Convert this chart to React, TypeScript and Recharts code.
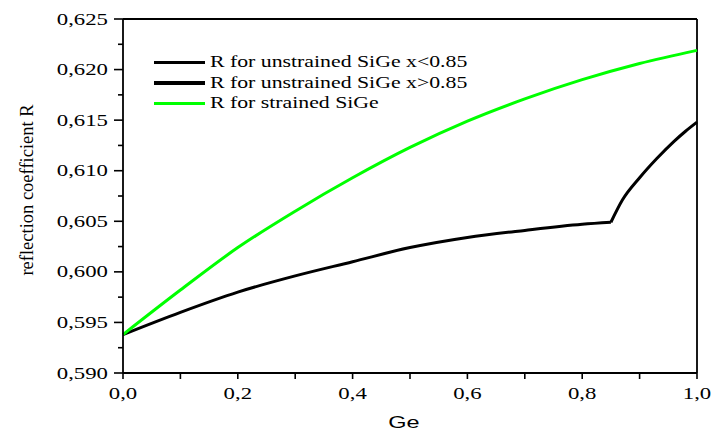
import React from 'react';
import { LineChart, Line, XAxis, YAxis, ReferenceLine, Legend } from 'recharts';

// Ge fraction / reflection coefficient
const geUnstrainedLow = [0, 0.1, 0.2, 0.3, 0.4, 0.5, 0.6, 0.7, 0.8, 0.85];
const rUnstrainedLow = [0.5938, 0.596, 0.598, 0.5996, 0.601, 0.6024, 0.6034, 0.6041, 0.6047, 0.6049];

const geUnstrainedHigh = [0.85, 0.87, 0.9, 0.93, 0.96, 0.98, 1.0];
const rUnstrainedHigh = [0.6049, 0.6071, 0.6093, 0.6112, 0.6129, 0.6139, 0.6148];

const geStrained = [0, 0.1, 0.2, 0.3, 0.4, 0.5, 0.6, 0.7, 0.8, 0.9, 1.0];
const rStrained = [0.5938, 0.5982, 0.6024, 0.606, 0.6093, 0.6123, 0.6149, 0.6171, 0.619, 0.6206, 0.6219];

const xTicks = [0, 0.1, 0.2, 0.3, 0.4, 0.5, 0.6, 0.7, 0.8, 0.9, 1.0];
const yTicks = [
  0.59, 0.5925, 0.595, 0.5975, 0.6, 0.6025, 0.605, 0.6075,
  0.61, 0.6125, 0.615, 0.6175, 0.62, 0.6225, 0.625,
];

const legendItems = [
  { label: 'R for unstrained SiGe x<0.85', color: '#000000' },
  { label: 'R for unstrained SiGe x>0.85', color: '#000000' },
  { label: 'R for strained SiGe', color: '#00ff00' },
];

const toRows = (xs: number[], ys: number[]) => xs.map((ge, i) => ({ ge, r: ys[i] }));

const lowData = toRows(geUnstrainedLow, rUnstrainedLow);
const highData = toRows(geUnstrainedHigh, rUnstrainedHigh);
const strainedData = toRows(geStrained, rStrained);

const SERIF = 'Liberation Serif';
const SANS = 'Liberation Sans';
const STRETCH = 1.38;
const LEGEND_STRETCH = 1.32;

const YTick = (props: any) => {
  const { x, y, payload } = props;
  const v = payload.value as number;
  const major = Math.round(v * 10000) % 50 === 0;
  return (
    <g>
      <line x1={x - (major ? 9 : 5)} x2={x} y1={y} y2={y} stroke="#000" strokeWidth={1.6} />
      {major && (
        <text
          transform={`translate(${x - 15},${y + 5.5}) scale(${STRETCH},1)`}
          textAnchor="end"
          style={{ fontFamily: SERIF, fontSize: 16.5 }}
          fill="#000"
        >
          {v.toFixed(3).replace('.', ',')}
        </text>
      )}
    </g>
  );
};

const XTick = (props: any) => {
  const { x, y, payload } = props;
  const v = payload.value as number;
  const labeled = Math.round(v * 10) % 2 === 0;
  return (
    <g>
      <line x1={x} x2={x} y1={y} y2={y + 6} stroke="#000" strokeWidth={1.6} />
      {labeled && (
        <text
          transform={`translate(${x},${y + 26}) scale(${STRETCH},1)`}
          textAnchor="middle"
          style={{ fontFamily: SERIF, fontSize: 16.5 }}
          fill="#000"
        >
          {v.toFixed(1).replace('.', ',')}
        </text>
      )}
    </g>
  );
};

const renderYLabel = (props: any) => {
  const { viewBox } = props;
  const cy = viewBox.y + viewBox.height / 2 - 6;
  return (
    <text
      transform={`translate(27,${cy}) rotate(-90)`}
      textAnchor="middle"
      dominantBaseline="central"
      style={{ fontFamily: SERIF, fontSize: 18.5 }}
      fill="#000"
    >
      reflection coefficient R
    </text>
  );
};

const renderXLabel = (props: any) => {
  const { viewBox } = props;
  const cx = viewBox.x + viewBox.width / 2 - 6;
  return (
    <text
      transform={`translate(${cx},${viewBox.y + 55}) scale(${STRETCH},1)`}
      textAnchor="middle"
      style={{ fontFamily: SANS, fontSize: 17 }}
      fill="#000"
    >
      Ge
    </text>
  );
};

const renderLegend = () => (
  <div style={{ display: 'flex', flexDirection: 'column' }}>
    {legendItems.map((item) => (
      <div key={item.label} style={{ display: 'flex', alignItems: 'center', height: 20.5 }}>
        <div style={{ width: 51, height: 3.5, background: item.color, marginRight: 5 }} />
        <span
          style={{
            display: 'inline-block',
            transform: `scaleX(${LEGEND_STRETCH})`,
            transformOrigin: 'left center',
            whiteSpace: 'nowrap',
            fontFamily: SERIF,
            fontSize: 16.5,
            color: '#000',
            lineHeight: '20px',
          }}
        >
          {item.label}
        </span>
      </div>
    ))}
  </div>
);

export default function App() {
  return (
    <div style={{ position: 'absolute', left: 0, top: 0, width: 713, height: 433, background: '#fff' }}>
      <LineChart width={713} height={433} margin={{ top: 19, right: 16, bottom: 0, left: 0 }}>
        <XAxis
          dataKey="ge"
          type="number"
          domain={[0, 1]}
          ticks={xTicks}
          interval={0}
          allowDuplicatedCategory={false}
          height={60}
          tickSize={0}
          tickMargin={0}
          tickLine={false}
          tick={<XTick />}
          axisLine={{ stroke: '#000', strokeWidth: 1.8 }}
          label={{ content: renderXLabel }}
        />
        <YAxis
          type="number"
          domain={[0.59, 0.625]}
          ticks={yTicks}
          interval={0}
          width={123}
          tickSize={0}
          tickMargin={0}
          tickLine={false}
          tick={<YTick />}
          axisLine={{ stroke: '#000', strokeWidth: 1.8 }}
          label={{ content: renderYLabel }}
          allowDataOverflow
        />
        <ReferenceLine y={0.625} stroke="#000" strokeWidth={1.8} />
        <ReferenceLine x={1} stroke="#000" strokeWidth={1.8} />
        <Legend
          layout="horizontal"
          verticalAlign="middle"
          align="center"
          wrapperStyle={{ top: 52, left: 154, width: 320 }}
          content={renderLegend}
        />
        <Line
          data={lowData}
          dataKey="r"
          name={legendItems[0].label}
          type="monotone"
          stroke="#000"
          strokeWidth={3}
          dot={false}
          isAnimationActive={false}
        />
        <Line
          data={highData}
          dataKey="r"
          name={legendItems[1].label}
          type="monotone"
          stroke="#000"
          strokeWidth={3}
          dot={false}
          isAnimationActive={false}
        />
        <Line
          data={strainedData}
          dataKey="r"
          name={legendItems[2].label}
          type="monotone"
          stroke="#00ff00"
          strokeWidth={3}
          dot={false}
          isAnimationActive={false}
        />
      </LineChart>
    </div>
  );
}
